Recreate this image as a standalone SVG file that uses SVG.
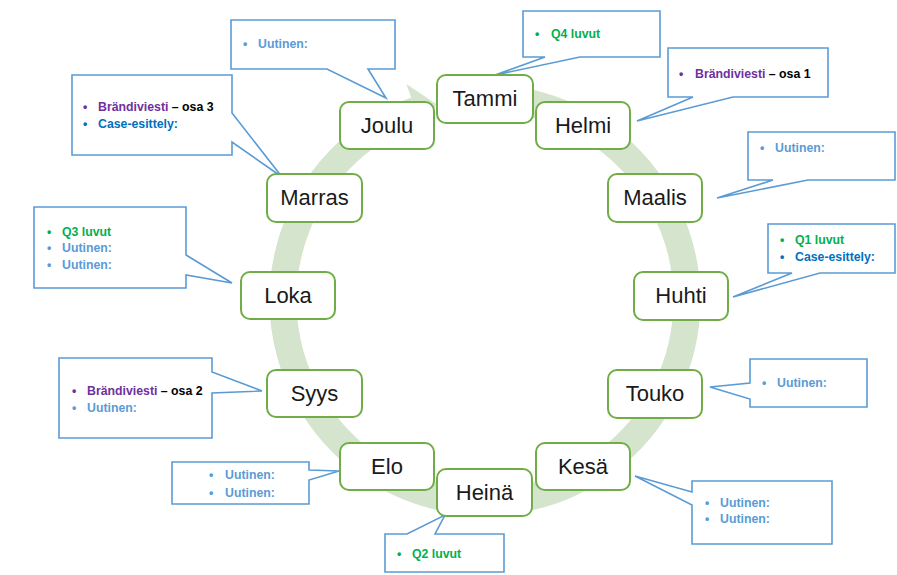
<svg xmlns="http://www.w3.org/2000/svg" width="897" height="575" viewBox="0 0 897 575">
<style>
.node rect{fill:#fff;stroke:#70ad47;stroke-width:2}
.node text{font-family:"Liberation Sans",Arial,sans-serif;font-size:22px;fill:#1a1a1a;text-anchor:middle}
.co path{fill:#fff;stroke:#5b9bd5;stroke-width:1.6;stroke-linejoin:miter}
.co text{font-family:"Liberation Sans",Arial,sans-serif;font-size:12.3px;font-weight:bold}
.u{fill:#5b9bd5}.c{fill:#0070c0}.q{fill:#00b050}.b{fill:#7030a0}.k{fill:#000}
</style>
<rect width="897" height="575" fill="#fff"/>
<g id="cycle-arrow">
<path d="M502.6,98.8 A202,202 0 1 1 415.9,110.2" fill="none" stroke="#d5e4cd" stroke-width="27"/>
<polygon points="406.3,83.9 425.5,136.5 436.1,104" fill="#d5e4cd"/>
</g>
<g id="connectors">
<g class="co" id="co-joulu"><path d="M231,20 H395 V69 H368 L386,98 L327,69 H231 Z"/><text x="243" y="48" class="u">•</text><text x="258" y="48" class="u">Uutinen:</text></g>
<g class="co" id="co-tammi"><path d="M523,11 H660 V57 H580 L495,75 L545,57 H523 Z"/><text x="535" y="38" class="q">•</text><text x="551" y="38" class="q">Q4 luvut</text></g>
<g class="co" id="co-helmi"><path d="M668,48 H828 V97 H733 L637,121 L693,97 H668 Z"/><text x="679" y="78" class="b">•</text><text x="695" y="78"><tspan class="b">Brändiviesti</tspan><tspan class="k"> – osa 1</tspan></text></g>
<g class="co" id="co-marras"><path d="M72,75 H232 V113 L282,177 L232,142 V155 H72 Z"/><text x="83" y="111" class="b">•</text><text x="98" y="111"><tspan class="b">Brändiviesti</tspan><tspan class="k"> – osa 3</tspan></text><text x="83" y="128" class="c">•</text><text x="98" y="128" class="c">Case-esittely:</text></g>
<g class="co" id="co-maalis"><path d="M748,132 H895 V180 H808 L717,198 L773,180 H748 Z"/><text x="760" y="152" class="u">•</text><text x="775" y="152" class="u">Uutinen:</text></g>
<g class="co" id="co-huhti"><path d="M768,224 H895 V273 H820 L733,297 L792,273 H768 Z"/><text x="780" y="244" class="q">•</text><text x="795" y="244" class="q">Q1 luvut</text><text x="780" y="261" class="c">•</text><text x="795" y="261" class="c">Case-esittely:</text></g>
<g class="co" id="co-loka"><path d="M34,207 H186 V255 L232,283 L186,275 V288 H34 Z"/><text x="47" y="236" class="q">•</text><text x="62" y="236" class="q">Q3 luvut</text><text x="47" y="252" class="u">•</text><text x="62" y="252" class="u">Uutinen:</text><text x="47" y="269" class="u">•</text><text x="62" y="269" class="u">Uutinen:</text></g>
<g class="co" id="co-syys"><path d="M59,358 H212 V372 L262,391 L212,393 V438 H59 Z"/><text x="72" y="395" class="b">•</text><text x="87" y="395"><tspan class="b">Brändiviesti</tspan><tspan class="k"> – osa 2</tspan></text><text x="72" y="412" class="u">•</text><text x="87" y="412" class="u">Uutinen:</text></g>
<g class="co" id="co-elo"><path d="M172,462 H309 V470 L339,471 L309,480 V504 H172 Z"/><text x="209" y="479" class="u">•</text><text x="225" y="479" class="u">Uutinen:</text><text x="209" y="497" class="u">•</text><text x="225" y="497" class="u">Uutinen:</text></g>
<g class="co" id="co-heina"><path d="M385,534 H407 L445,515 L435,534 H504 V572 H385 Z"/><text x="397" y="558" class="q">•</text><text x="412" y="558" class="q">Q2 luvut</text></g>
<g class="co" id="co-touko"><path d="M750,359 H867 V407 H750 V399 L710,387 L750,383 Z"/><text x="762" y="387" class="u">•</text><text x="777" y="387" class="u">Uutinen:</text></g>
<g class="co" id="co-kesa"><path d="M692,481 H832 V544 H692 V505 L635,476 L692,492 Z"/><text x="705" y="507" class="u">•</text><text x="720" y="507" class="u">Uutinen:</text><text x="705" y="523" class="u">•</text><text x="720" y="523" class="u">Uutinen:</text></g>
</g>
<g class="node" id="tammi"><rect x="437" y="75" width="96" height="48" rx="9"/><text x="485" y="106">Tammi</text></g>
<g class="node" id="joulu"><rect x="340" y="102" width="94" height="47" rx="9"/><text x="387" y="133">Joulu</text></g>
<g class="node" id="helmi"><rect x="536" y="102" width="94" height="47" rx="9"/><text x="583" y="133">Helmi</text></g>
<g class="node" id="marras"><rect x="267" y="174" width="95" height="48" rx="9"/><text x="314.5" y="205">Marras</text></g>
<g class="node" id="maalis"><rect x="608" y="174" width="94" height="48" rx="9"/><text x="655" y="205">Maalis</text></g>
<g class="node" id="loka"><rect x="241" y="272" width="94" height="47" rx="9"/><text x="288" y="303">Loka</text></g>
<g class="node" id="huhti"><rect x="634" y="272" width="94" height="48" rx="9"/><text x="681" y="303">Huhti</text></g>
<g class="node" id="syys"><rect x="267" y="370" width="95" height="47" rx="9"/><text x="314.5" y="401">Syys</text></g>
<g class="node" id="touko"><rect x="608" y="370" width="94" height="48" rx="9"/><text x="655" y="401">Touko</text></g>
<g class="node" id="elo"><rect x="340" y="443" width="94" height="47" rx="9"/><text x="387" y="474">Elo</text></g>
<g class="node" id="kesa"><rect x="536" y="443" width="94" height="47" rx="9"/><text x="583" y="474">Kesä</text></g>
<g class="node" id="heina"><rect x="437" y="469" width="95" height="47" rx="9"/><text x="484.5" y="500">Heinä</text></g>
</svg>
